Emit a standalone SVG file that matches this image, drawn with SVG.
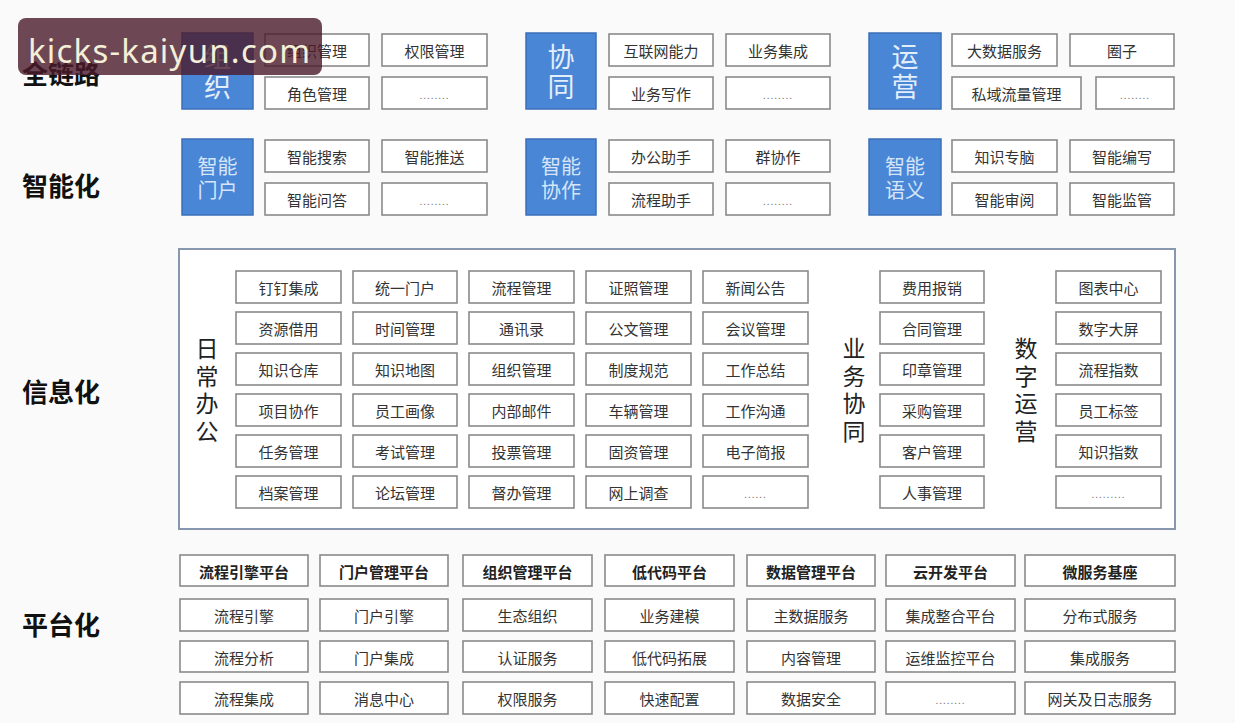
<svg xmlns="http://www.w3.org/2000/svg" width="1235" height="723" viewBox="0 0 1235 723">
<style>
text{font-family:"Noto Sans CJK SC","Noto Sans",sans-serif;}
.b{fill:#fff;stroke:#8a8a8a;stroke-width:1.6;}
.t{font-size:15px;fill:#333;text-anchor:middle;dominant-baseline:central;}
.hb{font-size:15px;fill:#222;font-weight:bold;text-anchor:middle;dominant-baseline:central;}
.d{font-size:10px;fill:#777;text-anchor:middle;dominant-baseline:central;letter-spacing:1px;}
.blue{fill:#4a86d6;stroke:#3b6fb8;stroke-width:1.5;}
.bt{font-size:27px;fill:#e3eefb;text-anchor:middle;writing-mode:vertical-rl;letter-spacing:3px;}
.bs{font-size:20px;fill:#d6e5f8;text-anchor:middle;dominant-baseline:central;}
.lab{font-size:26px;font-weight:bold;fill:#111;dominant-baseline:central;}
.vl{font-size:23px;fill:#222;text-anchor:middle;writing-mode:vertical-rl;letter-spacing:4.5px;}
</style>
<rect width="1235" height="723" fill="#fafafa"/>
<g id="connectors"/>
<g id="labels">
<text class="lab" x="22" y="72">全链路</text>
<text class="lab" x="22" y="184">智能化</text>
<text class="lab" x="22" y="390">信息化</text>
<text class="lab" x="22" y="623">平台化</text>
</g>
<g id="org">
<rect class="blue" x="182" y="33" width="71" height="76"/>
<text class="bt" x="217.5" y="73">组织</text>
<rect class="b" x="265" y="34" width="104" height="32"/><text class="t" x="317" y="50">组织管理</text>
<rect class="b" x="382" y="34" width="105" height="32"/><text class="t" x="434.5" y="50">权限管理</text>
<rect class="b" x="265" y="77" width="104" height="32"/><text class="t" x="317" y="93">角色管理</text>
<rect class="b" x="382" y="77" width="105" height="32"/><text class="d" x="434.5" y="94">........</text>
</g>
<g id="collab">
<rect class="blue" x="526" y="33" width="70" height="76"/>
<text class="bt" x="561" y="73">协同</text>
<rect class="b" x="609" y="34" width="104" height="32"/><text class="t" x="661" y="50">互联网能力</text>
<rect class="b" x="726" y="34" width="104" height="32"/><text class="t" x="778" y="50">业务集成</text>
<rect class="b" x="609" y="77" width="104" height="32"/><text class="t" x="661" y="93">业务写作</text>
<rect class="b" x="726" y="77" width="104" height="32"/><text class="d" x="778" y="94">........</text>
</g>
<g id="ops">
<rect class="blue" x="869" y="33" width="72" height="76"/>
<text class="bt" x="905" y="73">运营</text>
<rect class="b" x="952" y="34" width="105" height="32"/><text class="t" x="1004.5" y="50">大数据服务</text>
<rect class="b" x="1070" y="34" width="104" height="32"/><text class="t" x="1122" y="50">圈子</text>
<rect class="b" x="952" y="77" width="129" height="32"/><text class="t" x="1016.5" y="93">私域流量管理</text>
<rect class="b" x="1096" y="77" width="78" height="32"/><text class="d" x="1135" y="94">........</text>
</g>
<g id="smart-portal">
<rect class="blue" x="182" y="139" width="71" height="76"/>
<text class="bs"><tspan x="217.5" y="165">智能</tspan><tspan x="217.5" y="189">门户</tspan></text>
<rect class="b" x="265" y="140" width="104" height="32"/><text class="t" x="317" y="156">智能搜索</text>
<rect class="b" x="382" y="140" width="105" height="32"/><text class="t" x="434.5" y="156">智能推送</text>
<rect class="b" x="265" y="183" width="104" height="32"/><text class="t" x="317" y="199">智能问答</text>
<rect class="b" x="382" y="183" width="105" height="32"/><text class="d" x="434.5" y="200">........</text>
</g>
<g id="smart-collab">
<rect class="blue" x="526" y="139" width="70" height="76"/>
<text class="bs"><tspan x="561" y="165">智能</tspan><tspan x="561" y="189">协作</tspan></text>
<rect class="b" x="609" y="140" width="104" height="32"/><text class="t" x="661" y="156">办公助手</text>
<rect class="b" x="726" y="140" width="104" height="32"/><text class="t" x="778" y="156">群协作</text>
<rect class="b" x="609" y="183" width="104" height="32"/><text class="t" x="661" y="199">流程助手</text>
<rect class="b" x="726" y="183" width="104" height="32"/><text class="d" x="778" y="200">........</text>
</g>
<g id="smart-semantic">
<rect class="blue" x="869" y="139" width="72" height="76"/>
<text class="bs"><tspan x="905" y="165">智能</tspan><tspan x="905" y="189">语义</tspan></text>
<rect class="b" x="952" y="140" width="105" height="32"/><text class="t" x="1004.5" y="156">知识专脑</text>
<rect class="b" x="1070" y="140" width="104" height="32"/><text class="t" x="1122" y="156">智能编写</text>
<rect class="b" x="952" y="183" width="105" height="32"/><text class="t" x="1004.5" y="199">智能审阅</text>
<rect class="b" x="1070" y="183" width="104" height="32"/><text class="t" x="1122" y="199">智能监管</text>
</g>
<g id="info">
<rect x="179" y="249" width="996" height="280" fill="#fff" stroke="#8797ad" stroke-width="2"/>
<text class="vl" x="207" y="392">日常办公</text>
<text class="vl" x="854" y="392">业务协同</text>
<text class="vl" x="1026" y="392">数字运营</text>
</g>
<g id="info-col1">
<rect class="b" x="236" y="271" width="105" height="32"/><text class="t" x="288.5" y="287">钉钉集成</text>
<rect class="b" x="236" y="312" width="105" height="32"/><text class="t" x="288.5" y="328">资源借用</text>
<rect class="b" x="236" y="353" width="105" height="32"/><text class="t" x="288.5" y="369">知识仓库</text>
<rect class="b" x="236" y="394" width="105" height="32"/><text class="t" x="288.5" y="410">项目协作</text>
<rect class="b" x="236" y="435" width="105" height="32"/><text class="t" x="288.5" y="451">任务管理</text>
<rect class="b" x="236" y="476" width="105" height="32"/><text class="t" x="288.5" y="492">档案管理</text>
</g>
<g id="info-col2">
<rect class="b" x="353" y="271" width="104" height="32"/><text class="t" x="405" y="287">统一门户</text>
<rect class="b" x="353" y="312" width="104" height="32"/><text class="t" x="405" y="328">时间管理</text>
<rect class="b" x="353" y="353" width="104" height="32"/><text class="t" x="405" y="369">知识地图</text>
<rect class="b" x="353" y="394" width="104" height="32"/><text class="t" x="405" y="410">员工画像</text>
<rect class="b" x="353" y="435" width="104" height="32"/><text class="t" x="405" y="451">考试管理</text>
<rect class="b" x="353" y="476" width="104" height="32"/><text class="t" x="405" y="492">论坛管理</text>
</g>
<g id="info-col3">
<rect class="b" x="469" y="271" width="105" height="32"/><text class="t" x="521.5" y="287">流程管理</text>
<rect class="b" x="469" y="312" width="105" height="32"/><text class="t" x="521.5" y="328">通讯录</text>
<rect class="b" x="469" y="353" width="105" height="32"/><text class="t" x="521.5" y="369">组织管理</text>
<rect class="b" x="469" y="394" width="105" height="32"/><text class="t" x="521.5" y="410">内部邮件</text>
<rect class="b" x="469" y="435" width="105" height="32"/><text class="t" x="521.5" y="451">投票管理</text>
<rect class="b" x="469" y="476" width="105" height="32"/><text class="t" x="521.5" y="492">督办管理</text>
</g>
<g id="info-col4">
<rect class="b" x="586" y="271" width="105" height="32"/><text class="t" x="638.5" y="287">证照管理</text>
<rect class="b" x="586" y="312" width="105" height="32"/><text class="t" x="638.5" y="328">公文管理</text>
<rect class="b" x="586" y="353" width="105" height="32"/><text class="t" x="638.5" y="369">制度规范</text>
<rect class="b" x="586" y="394" width="105" height="32"/><text class="t" x="638.5" y="410">车辆管理</text>
<rect class="b" x="586" y="435" width="105" height="32"/><text class="t" x="638.5" y="451">固资管理</text>
<rect class="b" x="586" y="476" width="105" height="32"/><text class="t" x="638.5" y="492">网上调查</text>
</g>
<g id="info-col5">
<rect class="b" x="703" y="271" width="105" height="32"/><text class="t" x="755.5" y="287">新闻公告</text>
<rect class="b" x="703" y="312" width="105" height="32"/><text class="t" x="755.5" y="328">会议管理</text>
<rect class="b" x="703" y="353" width="105" height="32"/><text class="t" x="755.5" y="369">工作总结</text>
<rect class="b" x="703" y="394" width="105" height="32"/><text class="t" x="755.5" y="410">工作沟通</text>
<rect class="b" x="703" y="435" width="105" height="32"/><text class="t" x="755.5" y="451">电子简报</text>
<rect class="b" x="703" y="476" width="105" height="32"/><text class="d" x="755.5" y="493">......</text>
</g>
<g id="info-biz">
<rect class="b" x="880" y="271" width="104" height="32"/><text class="t" x="932" y="287">费用报销</text>
<rect class="b" x="880" y="312" width="104" height="32"/><text class="t" x="932" y="328">合同管理</text>
<rect class="b" x="880" y="353" width="104" height="32"/><text class="t" x="932" y="369">印章管理</text>
<rect class="b" x="880" y="394" width="104" height="32"/><text class="t" x="932" y="410">采购管理</text>
<rect class="b" x="880" y="435" width="104" height="32"/><text class="t" x="932" y="451">客户管理</text>
<rect class="b" x="880" y="476" width="104" height="32"/><text class="t" x="932" y="492">人事管理</text>
</g>
<g id="info-digital">
<rect class="b" x="1056" y="271" width="105" height="32"/><text class="t" x="1108.5" y="287">图表中心</text>
<rect class="b" x="1056" y="312" width="105" height="32"/><text class="t" x="1108.5" y="328">数字大屏</text>
<rect class="b" x="1056" y="353" width="105" height="32"/><text class="t" x="1108.5" y="369">流程指数</text>
<rect class="b" x="1056" y="394" width="105" height="32"/><text class="t" x="1108.5" y="410">员工标签</text>
<rect class="b" x="1056" y="435" width="105" height="32"/><text class="t" x="1108.5" y="451">知识指数</text>
<rect class="b" x="1056" y="476" width="105" height="32"/><text class="d" x="1108.5" y="493">.........</text>
</g>
<g id="plat-flow">
<rect class="b" x="180" y="555" width="128" height="31"/><text class="hb" x="244" y="571">流程引擎平台</text>
<rect class="b" x="180" y="599" width="128" height="32"/><text class="t" x="244" y="615">流程引擎</text>
<rect class="b" x="180" y="641" width="128" height="31"/><text class="t" x="244" y="657">流程分析</text>
<rect class="b" x="180" y="682" width="128" height="32"/><text class="t" x="244" y="698">流程集成</text>
</g>
<g id="plat-portal">
<rect class="b" x="320" y="555" width="128" height="31"/><text class="hb" x="384" y="571">门户管理平台</text>
<rect class="b" x="320" y="599" width="128" height="32"/><text class="t" x="384" y="615">门户引擎</text>
<rect class="b" x="320" y="641" width="128" height="31"/><text class="t" x="384" y="657">门户集成</text>
<rect class="b" x="320" y="682" width="128" height="32"/><text class="t" x="384" y="698">消息中心</text>
</g>
<g id="plat-org">
<rect class="b" x="463" y="555" width="129" height="31"/><text class="hb" x="527.5" y="571">组织管理平台</text>
<rect class="b" x="463" y="599" width="129" height="32"/><text class="t" x="527.5" y="615">生态组织</text>
<rect class="b" x="463" y="641" width="129" height="31"/><text class="t" x="527.5" y="657">认证服务</text>
<rect class="b" x="463" y="682" width="129" height="32"/><text class="t" x="527.5" y="698">权限服务</text>
</g>
<g id="plat-lowcode">
<rect class="b" x="605" y="555" width="129" height="31"/><text class="hb" x="669.5" y="571">低代码平台</text>
<rect class="b" x="605" y="599" width="129" height="32"/><text class="t" x="669.5" y="615">业务建模</text>
<rect class="b" x="605" y="641" width="129" height="31"/><text class="t" x="669.5" y="657">低代码拓展</text>
<rect class="b" x="605" y="682" width="129" height="32"/><text class="t" x="669.5" y="698">快速配置</text>
</g>
<g id="plat-data">
<rect class="b" x="747" y="555" width="128" height="31"/><text class="hb" x="811" y="571">数据管理平台</text>
<rect class="b" x="747" y="599" width="128" height="32"/><text class="t" x="811" y="615">主数据服务</text>
<rect class="b" x="747" y="641" width="128" height="31"/><text class="t" x="811" y="657">内容管理</text>
<rect class="b" x="747" y="682" width="128" height="32"/><text class="t" x="811" y="698">数据安全</text>
</g>
<g id="plat-cloud">
<rect class="b" x="886" y="555" width="129" height="31"/><text class="hb" x="950.5" y="571">云开发平台</text>
<rect class="b" x="886" y="599" width="129" height="32"/><text class="t" x="950.5" y="615">集成整合平台</text>
<rect class="b" x="886" y="641" width="129" height="31"/><text class="t" x="950.5" y="657">运维监控平台</text>
<rect class="b" x="886" y="682" width="129" height="32"/><text class="d" x="950.5" y="699">........</text>
</g>
<g id="plat-micro">
<rect class="b" x="1025" y="555" width="150" height="31"/><text class="hb" x="1100" y="571">微服务基座</text>
<rect class="b" x="1025" y="599" width="150" height="32"/><text class="t" x="1100" y="615">分布式服务</text>
<rect class="b" x="1025" y="641" width="150" height="31"/><text class="t" x="1100" y="657">集成服务</text>
<rect class="b" x="1025" y="682" width="150" height="32"/><text class="t" x="1100" y="698">网关及日志服务</text>
</g>
<g id="watermark">
<rect x="18" y="18" width="304" height="57" rx="8" fill="rgb(75,26,42)" fill-opacity="0.8"/>
<text x="28" y="63" font-size="33" fill="#f4efd9" textLength="282" style="font-family:'Noto Sans','Open Sans',sans-serif;">kicks-kaiyun.com</text>
</g>
</svg>
